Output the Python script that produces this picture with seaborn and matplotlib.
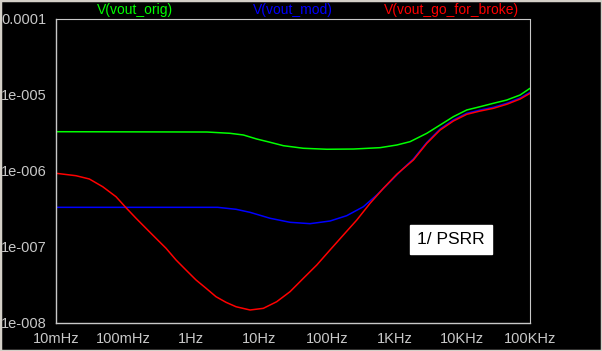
import numpy as np
import pandas as pd
import seaborn as sns
import matplotlib.pyplot as plt
from matplotlib.ticker import LogLocator, FixedLocator, NullFormatter
from matplotlib.patches import Rectangle

# values, as log10(freq in Hz) and log10(value in V)
logf_orig = [-2, 0.23, 0.570, 0.767, 0.964, 1.161, 1.358, 1.653, 1.999, 2.392, 2.786, 3.033, 3.229, 3.476,
             3.672, 3.869, 4.066, 4.263, 4.460, 4.657, 4.854, 5.0]
logv_orig = [-5.483, -5.487, -5.504, -5.526, -5.579, -5.622, -5.667, -5.701, -5.714, -5.711, -5.693, -5.658,
             -5.614, -5.504, -5.395, -5.285, -5.197, -5.154, -5.109, -5.066, -5.0, -4.912]

logf_mod = [-2, 0.388, 0.659, 0.866, 1.161, 1.456, 1.752, 2.047, 2.293, 2.539, 2.737, 2.934, 3.130, 3.278,
            3.476, 3.672, 3.869, 4.066, 4.263, 4.460, 4.657, 4.854, 5.0]
logv_mod = [-6.478, -6.478, -6.504, -6.544, -6.622, -6.675, -6.693, -6.658, -6.588, -6.470, -6.316, -6.141,
            -5.965, -5.842, -5.625, -5.448, -5.329, -5.241, -5.198, -5.162, -5.109, -5.040, -4.965]

logf_gfb = [-2, -1.705, -1.508, -1.31, -1.114, -0.966, -0.818, -0.671, -0.523, -0.375, -0.227, -0.080, 0.068,
            0.216, 0.363, 0.511, 0.659, 0.866, 1.062, 1.259, 1.456, 1.653, 1.851, 2.047, 2.244, 2.442, 2.638,
            2.835, 3.033, 3.278, 3.476, 3.672, 3.869, 4.066, 4.263, 4.460, 4.657, 4.854, 5.0]
logv_gfb = [-6.030, -6.062, -6.105, -6.207, -6.338, -6.483, -6.622, -6.754, -6.886, -7.017, -7.171, -7.303,
            -7.434, -7.543, -7.654, -7.728, -7.786, -7.829, -7.807, -7.720, -7.588, -7.412, -7.237, -7.039,
            -6.842, -6.645, -6.425, -6.228, -6.043, -5.855, -5.636, -5.461, -5.342, -5.254, -5.211,
            -5.175, -5.122, -5.053, -4.978]

x_ticks = [0.01, 0.1, 1, 10, 100, 1e3, 1e4, 1e5]
x_labels = ['10mHz', '100mHz', '1Hz', '10Hz', '100Hz', '1KHz', '10KHz', '100KHz']
y_ticks = [1e-8, 1e-7, 1e-6, 1e-5, 1e-4]
y_labels = ['1e-008', '1e-007', '1e-006', '1e-005', '0.0001']

series = [('V(vout_orig)', logf_orig, logv_orig, '#00ff00'),
          ('V(vout_mod)', logf_mod, logv_mod, '#0000ff'),
          ('V(vout_go_for_broke)', logf_gfb, logv_gfb, '#ff0000')]

sns.set_style('dark')
plt.rcParams['font.family'] = ['Liberation Sans', 'DejaVu Sans']

fig = plt.figure(figsize=(6.02, 3.51), dpi=100, facecolor='black')
ax = fig.add_axes([56 / 602, (351 - 323) / 351, (530 - 56) / 602, (323 - 19) / 351])
ax.set_facecolor('black')

for name, lf, lv, c in series:
    df = pd.DataFrame({'f': np.power(10.0, lf), 'v': np.power(10.0, lv)})
    sns.lineplot(data=df, x='f', y='v', ax=ax, color=c, linewidth=1.1, sort=False)

ax.set_xscale('log')
ax.set_yscale('log')
ax.set_xlim(0.01, 1e5)
ax.set_ylim(1e-8, 1e-4)
ax.grid(False)
ax.set_xlabel('')
ax.set_ylabel('')

tick_col = '#c8c8c8'
ax.xaxis.set_major_locator(FixedLocator(x_ticks))
ax.set_xticklabels(x_labels)
ax.xaxis.set_minor_locator(LogLocator(base=10, subs=np.arange(2, 10)))
ax.xaxis.set_minor_formatter(NullFormatter())
ax.yaxis.set_major_locator(FixedLocator(y_ticks))
ax.set_yticklabels(y_labels)
ax.yaxis.set_minor_locator(LogLocator(base=10, subs=np.arange(2, 10)))
ax.yaxis.set_minor_formatter(NullFormatter())
ax.tick_params(which='major', direction='out', length=5, width=1, color=tick_col,
               labelcolor=tick_col, labelsize=10.5, pad=1.5)
ax.tick_params(which='minor', direction='out', length=3, width=1, color=tick_col)

for side in ['left', 'bottom']:
    ax.spines[side].set_color(tick_col)
    ax.spines[side].set_linewidth(1)
for side in ['top', 'right']:
    ax.spines[side].set_color(tick_col)
    ax.spines[side].set_linewidth(0.8)
    ax.spines[side].set_linestyle((0, (1, 1)))

# legend labels across the top
for (name, lf, lv, c), xp in zip(series, [135, 293, 451]):
    fig.text(xp / 602, 1 - 10 / 351, name, color=c, fontsize=10, ha='center', va='center')

ax.text((451 - 56) / 474, (323 - 239.5) / 304, '1/ PSRR', transform=ax.transAxes, fontsize=12.5,
        color='black', ha='center', va='center',
        bbox=dict(boxstyle='square,pad=0.4', facecolor='white', edgecolor='white'))

# window frame
fig.patches.append(Rectangle((0, 0), 1, 1, transform=fig.transFigure, fill=False,
                             edgecolor='#d4d0c8', linewidth=2.5))

fig.savefig('out.png', dpi=100, facecolor='black')
